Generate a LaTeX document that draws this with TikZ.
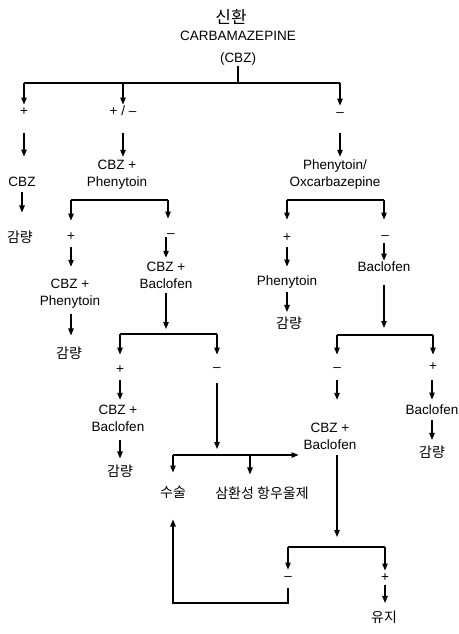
\documentclass[tikz,border=0pt]{standalone}
\usepackage{fontspec}
\setmainfont{Liberation Sans}
\newfontfamily\kfont{Noto Sans CJK KR}
\usetikzlibrary{arrows.meta}
\newcommand\vs{\vphantom{(Ay}}
\tikzset{
  lat/.style={font=\fontsize{13.5}{16.5}\selectfont, inner sep=1pt, text height=9.7pt, text depth=2.8pt},
  lattwo/.style={font=\fontsize{13.5}{16.5}\selectfont, inner sep=1pt, align=center},
  kor/.style={font=\kfont\fontsize{14}{16}\selectfont, inner sep=1pt},
  ktitle/.style={font=\kfont\fontsize{17}{19}\selectfont, inner sep=1pt},
  ln/.style={line width=1.1pt},
  arr/.style={line width=1.1pt, -{Triangle[length=7pt,width=5.5pt]}},
  sh/.style 2 args={shorten <=#1, shorten >=#2},
}
\begin{document}
\begin{tikzpicture}[x=1pt,y=-1pt]
\useasboundingbox (0,0) rectangle (458,634);
% ---- top
\node[ktitle] (kt) at (231,17) {신환};
\node[lat] (carb) at (238,37) {CARBAMAZEPINE};
\node[lat] (cbz0) at (238,59) {(CBZ)};
\coordinate (b0) at (238,83);
\coordinate (b0L) at (24,83);
\coordinate (b0M) at (123,83);
\coordinate (b0R) at (340,83);
\draw[ln] (cbz0.south) -- (b0);
\draw[ln] (b0L) -- (b0R);
\node[lat] (p1) at (24,112) {+};
\node[lat] (pm1) at (123,112) {+ / –};
\node[lat] (m1) at (340,113) {–};
\draw[arr] (b0L) -- (p1.north);
\draw[arr] (b0M) -- (pm1.north);
\draw[arr] (b0R) -- (m1.north);
% ---- left column
\node[lat] (cbz1) at (22,183) {CBZ};
\node[kor] (g1) at (20,237) {감량};
\draw[arr, sh={14pt}{19pt}] (p1.south) -- (p1.south |- cbz1.north);
\draw[arr, sh={2pt}{17pt}] (cbz1.south) -- (cbz1.south |- g1.north);
% ---- CBZ + Phenytoin
\node[lattwo] (cp1) at (117,174.5) {CBZ +\vs\\Phenytoin\vs};
\draw[arr, sh={14pt}{2pt}] (pm1.south) -- (pm1.south |- cp1.north);
\coordinate (b1L) at (71,200);
\coordinate (b1R) at (168,200);
\draw[ln] (b1L) -- (b1R);
\node[lat] (p2) at (71,237) {+};
\node[lat] (m2) at (171,234) {–};
\draw[arr, sh={0pt}{9pt}] (b1L) -- (p2.north);
\draw[arr, sh={0pt}{8pt}] (b1R) -- (b1R |- m2.north);
\node[lattwo] (cp2) at (70,293.5) {CBZ +\vs\\Phenytoin\vs};
\node[kor] (g2) at (69,353) {감량};
\draw[arr, sh={3pt}{11pt}] (p2.south) -- (p2.south |- cp2.north);
\draw[arr, sh={5pt}{10pt}] (cp2.south -| p2) -- (p2 |- g2.north);
\node[lattwo] (cb2) at (166,276.5) {CBZ +\vs\\Baclofen\vs};
\draw[arr, sh={-4pt}{3pt}] (cb2.north |- m2.south) -- (cb2.north);
\coordinate (b3) at (166,334);
\coordinate (b3L) at (120,334);
\coordinate (b3R) at (217,334);
\draw[arr, sh={1pt}{5pt}] (cb2.south) -- (b3);
\draw[ln] (b3L) -- (b3R);
\node[lat] (p3) at (120,370) {+};
\node[lat] (m3) at (217,368) {–};
\draw[arr, sh={0pt}{8pt}] (b3L) -- (p3.north);
\draw[arr, sh={0pt}{6pt}] (b3R) -- (m3.north);
\node[lattwo] (cb3) at (118,419.5) {CBZ +\vs\\Baclofen\vs};
\node[kor] (g3) at (120,471) {감량};
\draw[arr, sh={3pt}{4pt}] (p3.south) -- (p3.south |- cb3.north);
\draw[arr, sh={5pt}{5pt}] (p3 |- cb3.south) -- (p3 |- g3.north);
% ---- right column
\node[lattwo] (po) at (335,174.5) {Phenytoin/\vs\\Oxcarbazepine\vs};
\draw[arr, sh={13pt}{2pt}] (m1.south) -- (m1.south |- po.north);
\coordinate (b2L) at (287,200);
\coordinate (b2R) at (384,200);
\draw[ln] (b2L) -- (b2R);
\node[lat] (p4) at (287,238) {+};
\node[lat] (m4) at (385,236) {–};
\draw[arr, sh={0pt}{11pt}] (b2L) -- (p4.north);
\draw[arr, sh={0pt}{9pt}] (b2R) -- (b2R |- m4.north);
\node[lat] (ph4) at (287,282) {Phenytoin};
\node[kor] (g4) at (289,323) {감량};
\draw[arr, sh={2pt}{8pt}] (p4.south) -- (ph4.north);
\draw[arr, sh={3pt}{3.5pt}] (ph4.south) -- (ph4.south |- g4.north);
\node[lat] (bc4) at (384,268) {Baclofen};
\draw[arr, sh={0pt}{0pt}] (bc4.north |- m4.south) -- (bc4.north);
\coordinate (b5) at (384,335);
\coordinate (b5L) at (337,335);
\coordinate (b5R) at (433,335);
\draw[arr, sh={10pt}{7pt}] (bc4.south) -- (b5);
\draw[ln] (b5L) -- (b5R);
\node[lat] (m5) at (337,368) {–};
\node[lat] (p5) at (433,367) {+};
\draw[arr, sh={0pt}{6pt}] (b5L) -- (m5.north);
\draw[arr, sh={0pt}{5pt}] (b5R) -- (p5.north);
\node[lattwo] (cb4) at (330,437.5) {CBZ +\vs\\Baclofen\vs};
\draw[arr, sh={5pt}{22pt}] (m5.south) -- (m5.south |- cb4.north);
\node[lat] (bc5) at (432,411) {Baclofen};
\node[kor] (g5) at (432,452) {감량};
\draw[arr, sh={6pt}{4pt}] (p5.south -| bc5) -- (bc5.north);
\draw[arr, sh={2pt}{4.5pt}] (bc5.south) -- (g5.north);
% ---- lower middle: 수술 / 삼환성 항우울제
\coordinate (b4) at (217,455);
\coordinate (b4L) at (173,455);
\coordinate (b4M) at (250,455);
\draw[arr, sh={8pt}{6pt}] (m3.south) -- (b4);
\draw[arr, sh={0pt}{4pt}] (b4L) -- (b4L -| cb4.west);
\node[kor] (su) at (173,492) {수술};
\node[kor] (tc) at (262,493) {삼환성 항우울제};
\draw[arr, sh={0pt}{12pt}] (b4L) -- (su.north);
\draw[arr, sh={0pt}{11pt}] (b4M) -- (b4M |- tc.north);
% ---- bottom
\coordinate (b6) at (337,547);
\coordinate (b6L) at (288,547);
\coordinate (b6R) at (385,547);
\draw[arr, sh={2pt}{10pt}] (b6 |- cb4.south) -- (b6);
\draw[ln] (b6L) -- (b6R);
\node[lat] (m6) at (288,577) {–};
\node[lat] (p6) at (385,578) {+};
\draw[arr] (b6L) -- (m6.north);
\draw[arr] (b6R) -- (p6.north);
\node[kor] (yj) at (384,617) {유지};
\draw[arr, sh={0pt}{6.5pt}] (p6.south) -- (p6.south |- yj.north);
\coordinate (fb) at (288,603);
\draw[arr, sh={4pt}{20pt}] (m6.south) -- (fb) -| (su.south);
\end{tikzpicture}
\end{document}
